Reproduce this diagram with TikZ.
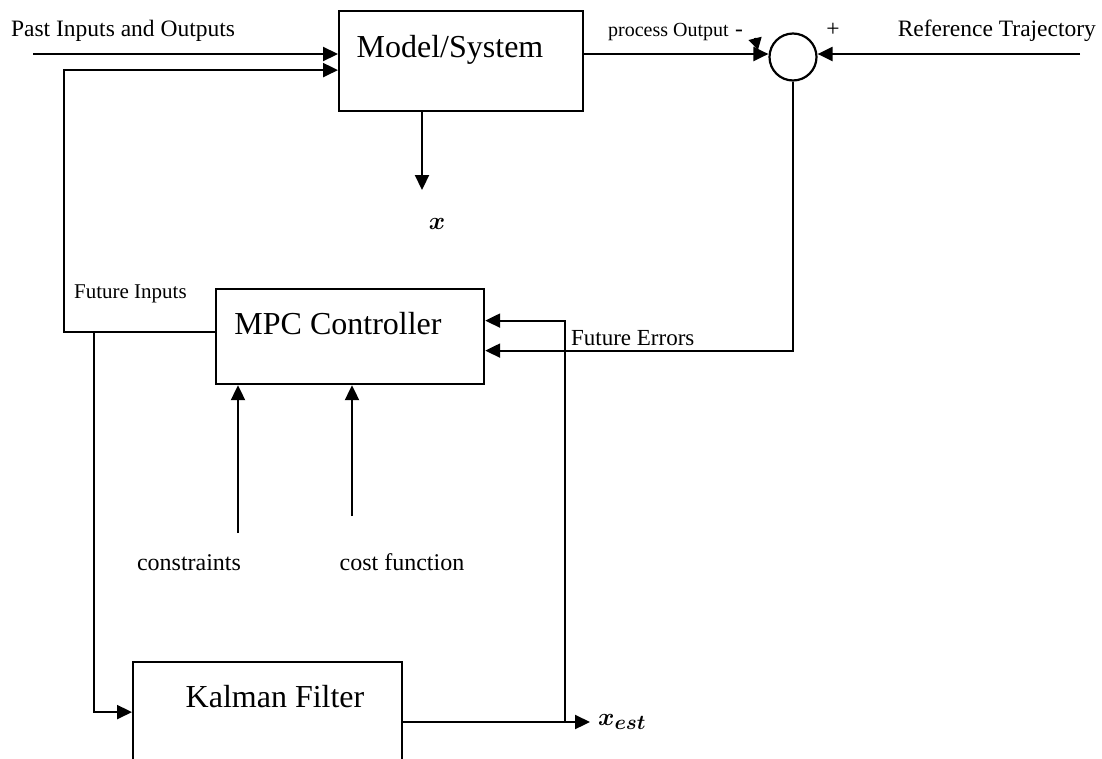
\documentclass[tikz,border=0pt]{standalone}
\usepackage{amsmath}
\usepackage{fontspec}
\setmainfont{Liberation Serif}
\usetikzlibrary{arrows.meta,positioning}

\tikzset{
  blk/.style={draw, rectangle, inner sep=0pt, anchor=north west},
  sumpt/.style={draw, circle, minimum size=47pt, inner sep=0pt},
  arr/.style={-{Triangle[length=15pt,width=14pt]}},
  biglbl/.style={font=\fontsize{32}{36}\selectfont, inner sep=0pt, anchor=base},
  lbl/.style={font=\fontsize{23.5}{27}\selectfont, inner sep=0pt},
  smlbl/.style={font=\fontsize{21}{24}\selectfont, inner sep=0pt, anchor=base west},
}

\begin{document}
\begin{tikzpicture}[x=1pt, y=-1pt, line width=2.2pt]
  \clip (0,0) rectangle (1102,758);
  % blocks
  \node [blk, minimum width=244pt, minimum height=100pt] (sys) at (338,10) {};
  \node [blk, minimum width=268pt, minimum height=95pt] (mpc) at (215,288) {};
  \node [blk, minimum width=269pt, minimum height=100pt] (kal) at (132,661) {};
  \node [sumpt] (sum) at (793,57) {};
  \node [biglbl] (syslbl) at (450,57) {Model/System};
  \node [biglbl] (mpclbl) at (338,334) {MPC Controller};
  \node [biglbl] (kallbl) at (275,707) {Kalman Filter};

  % free ends
  \coordinate (pastin) at (33,54);
  \coordinate (refin) at (1080,54);
  \coordinate (fi) at (64,332);
  \coordinate (ki) at (94,332);
  \coordinate (xout) at (422,190);
  \coordinate (con) at (238,533);
  \coordinate (cf) at (352,516);
  \coordinate (tap) at (565,722);
  \coordinate (xest) at (590,722);

  % top row
  \draw [arr] (pastin) -- (pastin -| sys.west);
  \draw [arr] (fi -| mpc.west) -- (fi) |- ([yshift=-9pt]sys.west);
  \draw [arr] (pastin -| sys.east) -- (pastin -| sum.west);
  \draw [arr] (refin) -- (refin -| sum.east);
  \draw [-{Triangle[length=12pt,width=13pt]}] (755,38) -- (758,50);
  \draw [arr] (xout |- sys.south) -- (xout);

  % controller inputs
  \draw [arr] (sum.south) |- ([yshift=-14pt]mpc.east);
  \draw [arr] (tap) |- ([yshift=16pt]mpc.east);
  \draw [arr] (con) -- (con |- mpc.south);
  \draw [arr] (cf) -- (cf |- mpc.south);

  % estimator
  \draw [arr] (ki) |- (kal.west);
  \draw [arr] (tap -| kal.east) -- (xest);

  % labels
  \node [lbl, anchor=base west] (pastlbl) at (10,36) {Past Inputs and Outputs};
  \node [lbl, anchor=base west, font=\fontsize{20}{24}\selectfont] (outlbl) at (607,36) {process Output};
  \node [lbl, anchor=base] (minus) at (739,36) {-};
  \node [lbl, anchor=base] (plus) at (833,36) {+};
  \node [lbl, anchor=base east] (reflbl) at (1097,36) {Reference Trajectory};
  \node [smlbl] (filbl) at (73,298) {Future Inputs};
  \node [smlbl, font=\fontsize{23}{26}\selectfont] (felbl) at (570,345) {Future Errors};
  \node [lbl, anchor=base, font=\fontsize{24}{28}\selectfont] (conlbl) at (189,570) {constraints};
  \node [lbl, anchor=base, font=\fontsize{24}{28}\selectfont] (cflbl) at (402,570) {cost function};
  \node [font=\fontsize{30}{34}\selectfont, inner sep=0pt] (xlbl) at (437,224) {$\boldsymbol{x}$};
  \node [font=\fontsize{28}{32}\selectfont, inner sep=0pt, anchor=west] (xestlbl) at ([xshift=7pt]xest) {$\boldsymbol{x}_{\boldsymbol{est}}$};
\end{tikzpicture}
\end{document}
